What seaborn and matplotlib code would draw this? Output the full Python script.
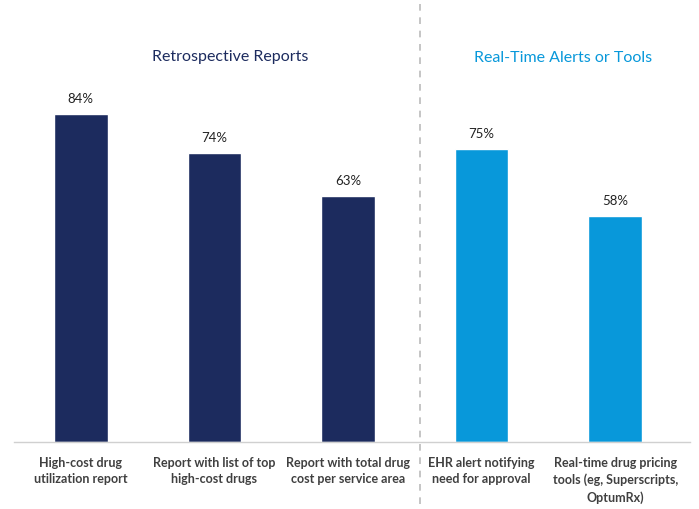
import matplotlib
matplotlib.use("Agg")
import matplotlib.pyplot as plt
import seaborn as sns
import pandas as pd
from matplotlib.lines import Line2D

categories = [
    "High-cost drug\nutilization report",
    "Report with list of top\nhigh-cost drugs",
    "Report with total drug\ncost per service area",
    "EHR alert notifying\nneed for approval",
    "Real-time drug pricing\ntools (eg, Superscripts,\nOptumRx)",
]
values = [84, 74, 63, 75, 58]
groups = ["Retrospective Reports"] * 3 + ["Real-Time Alerts or Tools"] * 2
group_colors = {"Retrospective Reports": "#1C2B5E", "Real-Time Alerts or Tools": "#0898DA"}

df = pd.DataFrame({"category": categories, "value": values, "group": groups})

sns.set_theme(style="white")
plt.rcParams['font.family'] = ['Lato', 'DejaVu Sans']

fig = plt.figure(figsize=(6.99, 5.10), dpi=100)
ax = fig.add_axes([14/699, 67/510, 676/699, 390.5/510])

sns.barplot(data=df, x="category", y="value", hue="group", palette=group_colors,
            dodge=False, width=0.4, ax=ax, legend=False, saturation=1)

ax.set_ylim(0, 100)
ax.set_xlim(-0.5, 4.56)
ax.set_xlabel("")
ax.set_ylabel("")
ax.set_yticks([])
for s in ["top", "right", "left"]:
    ax.spines[s].set_visible(False)
ax.spines["bottom"].set_color("#D0D0D0")
ax.spines["bottom"].set_linewidth(1.0)
ax.tick_params(axis="x", length=0, pad=10)
for lbl in ax.get_xticklabels():
    lbl.set_fontsize(9)
    lbl.set_fontweight("bold")
    lbl.set_color("#404040")
    lbl.set_linespacing(1.45)

for i, v in enumerate(values):
    ax.text(i, v + 2.5, f"{v}%", ha="center", va="bottom", fontsize=9.5, color="#222222")

# divider
fig.add_artist(Line2D([420/699, 420/699], [5/510, 505/510], transform=fig.transFigure,
                      color="#BBBBBB", linestyle=(0, (4, 4)), linewidth=1.2))

fig.text(230/699, 1 - 57/510, "Retrospective Reports", ha="center", va="center",
         fontsize=11.5, color="#1C2B5E")
fig.text(563/699, 1 - 58/510, "Real-Time Alerts or Tools", ha="center", va="center",
         fontsize=11.5, color="#0898DA")

fig.savefig("out.png", dpi=100)
